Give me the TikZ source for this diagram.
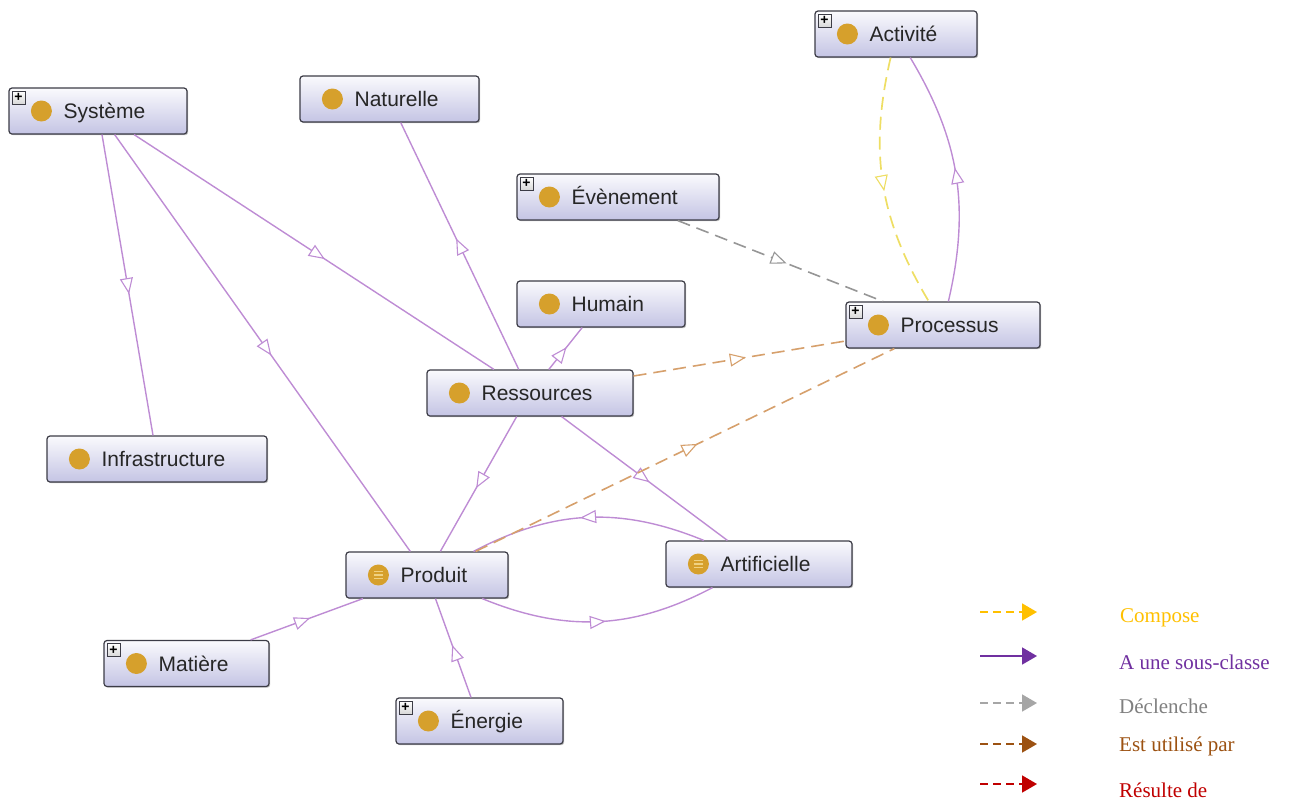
\documentclass[tikz,border=0pt]{standalone}
\usepackage{fontspec}
\setmainfont{Liberation Serif}
\newfontfamily\nodefont{Liberation Sans}
\usetikzlibrary{arrows.meta,decorations.markings,shadows}
\definecolor{boxedge}{RGB}{60,60,70}
\definecolor{boxtop}{RGB}{250,250,253}
\definecolor{boxbot}{RGB}{196,196,228}
\definecolor{gold}{RGB}{214,160,44}
\definecolor{goldlight}{RGB}{240,210,130}
\definecolor{subc}{RGB}{190,140,212}
\definecolor{trig}{RGB}{150,150,150}
\definecolor{used}{RGB}{214,160,108}
\definecolor{comp}{RGB}{238,222,100}
\definecolor{legyellow}{RGB}{255,192,0}
\definecolor{legpurple}{RGB}{112,48,160}
\definecolor{leggrey}{RGB}{166,166,166}
\definecolor{leggreytext}{RGB}{128,128,128}
\definecolor{legbrown}{RGB}{156,82,18}
\definecolor{legred}{RGB}{192,0,0}
\tikzset{
  clsbox/.style={draw=boxedge, line width=1.2pt, rounded corners=3pt, top color=boxtop, bottom color=boxbot, minimum height=46pt, inner sep=0pt,
    drop shadow={shadow xshift=1.2pt, shadow yshift=-1.2pt, opacity=0.25, fill=black}},
  clslabel/.style={anchor=base west, inner sep=0pt, font=\nodefont\fontsize{21}{25}\selectfont, text=black!85},
  plusbox/.style={draw=boxedge, top color=white, bottom color=black!15, minimum size=13pt, inner sep=0pt, line width=0.8pt, font=\nodefont\bfseries\fontsize{14}{14}\selectfont},
  midarrow/.style={postaction={decorate}, decoration={markings, mark=at position 0.53 with {\arrow[solid]{Triangle[length=16pt,width=13pt,fill=white,line width=1.1pt]}}}},
  sublink/.style={draw=subc, line width=1.4pt, midarrow},
  triglink/.style={draw=trig, line width=1.6pt, dash pattern=on 13pt off 7pt, midarrow},
  usedlink/.style={draw=used, line width=1.6pt, dash pattern=on 13pt off 7pt, midarrow},
  complink/.style={draw=comp, line width=1.7pt, dash pattern=on 13pt off 7pt, midarrow},
  legline/.style={line width=1.8pt, -{Triangle[length=15pt,width=17pt]}},
  legtext/.style={anchor=base west, inner sep=0pt, font=\fontsize{21}{25}\selectfont},
}
\newcommand{\owlclass}[5]{%
  \node[clsbox, minimum width=#4pt] (#1) at (#2,#3) {};
  \fill[gold] ([xshift=33pt]#1.west) circle (10.5pt);
  \node[clslabel] (#1-t) at ([xshift=55pt,yshift=-7.5pt]#1.west) {#5};
}
\newcommand{\plusmark}[1]{%
  \node[plusbox] (#1-p) at ([xshift=10pt,yshift=-10pt]#1.north west) {+};
}
\newcommand{\eqmark}[1]{%
  \foreach \k in {-3.5,0,3.5} {
    \draw[goldlight, line width=1.3pt] ([xshift=28.5pt,yshift=\k pt]#1.west) -- ([xshift=37.5pt,yshift=\k pt]#1.west);
  }
}
\begin{document}
\begin{tikzpicture}[x=1pt,y=-1pt]
\useasboundingbox (0,0) rectangle (1289,801);
% nodes
\owlclass{sys}{98}{111}{178}{Système}
\owlclass{nat}{389.5}{99}{179}{Naturelle}
\owlclass{act}{896}{34}{162}{Activité}
\owlclass{eve}{618}{197}{202}{Évènement}
\owlclass{hum}{601}{304}{168}{Humain}
\owlclass{proc}{943}{325}{194}{Processus}
\owlclass{res}{530}{393}{206}{Ressources}
\owlclass{infra}{157}{459}{220}{Infrastructure}
\owlclass{prod}{427}{575}{162}{Produit}
\owlclass{arti}{759}{564}{186}{Artificielle}
\owlclass{mat}{186.5}{663.5}{165}{Matière}
\owlclass{ener}{479.5}{721}{167}{Énergie}
\plusmark{sys}
\plusmark{act}
\plusmark{eve}
\plusmark{proc}
\plusmark{mat}
\plusmark{ener}
\eqmark{prod}
\eqmark{arti}
% subclass links
\draw[sublink] (sys) -- (infra);
\draw[sublink] (sys) -- (prod);
\draw[sublink] (sys) -- (res);
\draw[sublink] (res) -- (nat);
\draw[sublink] (res) -- (hum);
\draw[sublink] (res) -- (prod);
\draw[sublink] (res) -- (arti);
\draw[sublink] (mat) -- (prod);
\draw[sublink] (ener) -- (prod);
\draw[sublink] (arti) to[bend right=25] (prod);
\draw[sublink] (prod) to[bend right=25] (arti);
\draw[sublink] (proc) to[bend right=22] (act);
% other relations
\draw[complink] (act) to[bend right=22] (proc);
\draw[triglink] (eve) -- (proc);
\draw[usedlink] (res) -- (proc);
\draw[usedlink] (prod) -- (proc);
% legend
\coordinate (l1a) at (980,612); \coordinate (l1b) at (1037,612);
\coordinate (l2a) at (980,656); \coordinate (l2b) at (1037,656);
\coordinate (l3a) at (980,703); \coordinate (l3b) at (1037,703);
\coordinate (l4a) at (980,744); \coordinate (l4b) at (1037,744);
\coordinate (l5a) at (980,784); \coordinate (l5b) at (1037,784);
\draw[legline, legyellow, dash pattern=on 8pt off 5pt] (l1a) -- (l1b);
\draw[legline, legpurple] (l2a) -- (l2b);
\draw[legline, leggrey, dash pattern=on 8pt off 5pt] (l3a) -- (l3b);
\draw[legline, legbrown, dash pattern=on 8pt off 5pt] (l4a) -- (l4b);
\draw[legline, legred, dash pattern=on 8pt off 5pt] (l5a) -- (l5b);
\node[legtext, text=legyellow] (lt1) at (1120,622) {Compose};
\node[legtext, text=legpurple] (lt2) at (1119,669) {A une sous-classe};
\node[legtext, text=leggreytext] (lt3) at (1119,713) {Déclenche};
\node[legtext, text=legbrown] (lt4) at (1119,751) {Est utilisé par};
\node[legtext, text=legred] (lt5) at (1119,797) {Résulte de};
\end{tikzpicture}
\end{document}
